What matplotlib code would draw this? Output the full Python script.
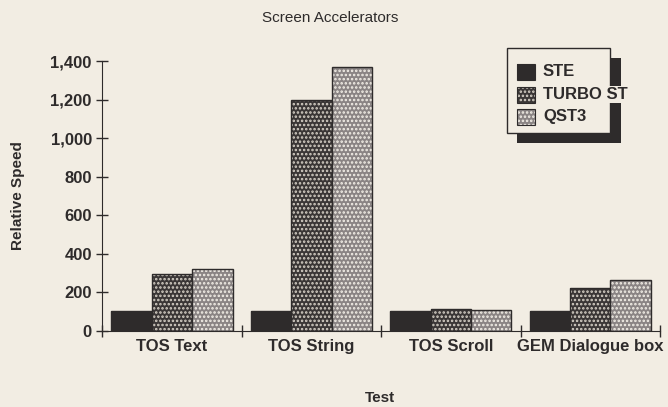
import numpy as np
import matplotlib
matplotlib.use('Agg')
from matplotlib import pyplot as plt
from matplotlib.patches import Rectangle

tests = ['TOS Text', 'TOS String', 'TOS Scroll', 'GEM Dialogue box']
ste = [105, 105, 105, 105]
turbo_st = [295, 1200, 115, 220]
qst3 = [320, 1370, 110, 265]
yticks = [0, 200, 400, 600, 800, 1000, 1200, 1400]
series_names = ['STE', 'TURBO ST', 'QST3']

plt.rcParams['font.family'] = ['Liberation Sans', 'DejaVu Sans']
plt.rcParams['hatch.linewidth'] = 1.2

bg = '#f2ede3'
dark = '#2e2b2b'
styles = [
    dict(facecolor=dark, edgecolor=dark, hatch=None),
    dict(facecolor='#3a3636', edgecolor='#d8d2c8', hatch='....'),
    dict(facecolor='#8a8484', edgecolor='#f4f0e8', hatch='....'),
]

W, H = 668, 407
fig = plt.figure(figsize=(W / 100, H / 100), dpi=100, facecolor=bg)
ax = fig.add_axes([0.153, 0.187, 0.835, 0.663], facecolor=bg)

x = np.arange(len(tests))
w = 0.29
for i, vals in enumerate([ste, turbo_st, qst3]):
    pos = x + (i - 1) * w
    ax.bar(pos, vals, w, linewidth=0, **styles[i])
    ax.bar(pos, vals, w, fill=False, edgecolor=dark, linewidth=1)

ax.set_xlim(-0.5, 3.5)
ax.set_ylim(0, 1400)
ax.set_yticks(yticks)
ax.set_yticklabels([f'{v:,}' for v in yticks], fontsize=12, fontweight='bold', color=dark)
ax.set_xticks(np.arange(-0.5, 4, 1))
ax.set_xticklabels([])
ax.set_xticks(x, minor=True)
ax.set_xticklabels(tests, minor=True, fontsize=12, fontweight='bold', color=dark)
ax.tick_params(axis='x', which='minor', length=0, pad=6)
ax.tick_params(axis='both', which='major', direction='inout', length=8, color=dark, width=1)

for s in ['top', 'right']:
    ax.spines[s].set_visible(False)
for s in ['left', 'bottom']:
    ax.spines[s].set_color(dark)

ax.set_ylabel('Relative Speed', fontsize=11, fontweight='bold', color=dark, labelpad=18)


def fx(px):
    return px / W


def fy(py):
    return 1 - py / H


fig.text(fx(380), fy(398), 'Test', ha='center', va='center', fontsize=11,
         fontweight='bold', color=dark)
fig.text(0.495, 0.955, 'Screen Accelerators', ha='center', va='center', fontsize=11, color=dark)


# hand-made legend with drop shadow, in pixel coordinates
def box(x0, y0, x1, y1, **kw):
    r = Rectangle((fx(x0), fy(y1)), fx(x1) - fx(x0), fy(y0) - fy(y1),
                  transform=fig.transFigure, **kw)
    fig.add_artist(r)


box(517, 58, 621, 143, color=dark, linewidth=0, zorder=5)
box(507, 48, 610, 133, facecolor=bg, edgecolor=dark, linewidth=1, zorder=6)
for i, name in enumerate(series_names):
    cy = 72 + i * 22.5
    box(517, cy - 8, 535, cy + 8, linewidth=0, zorder=7, **styles[i])
    box(517, cy - 8, 535, cy + 8, fill=False, edgecolor=dark, linewidth=0.8, zorder=7)
    fig.text(fx(543), fy(cy), name, ha='left', va='center', fontsize=12,
             fontweight='bold', color=dark, zorder=8,
             bbox=dict(facecolor=bg, edgecolor='none', pad=1))

fig.savefig('out.png', dpi=100, facecolor=bg)
